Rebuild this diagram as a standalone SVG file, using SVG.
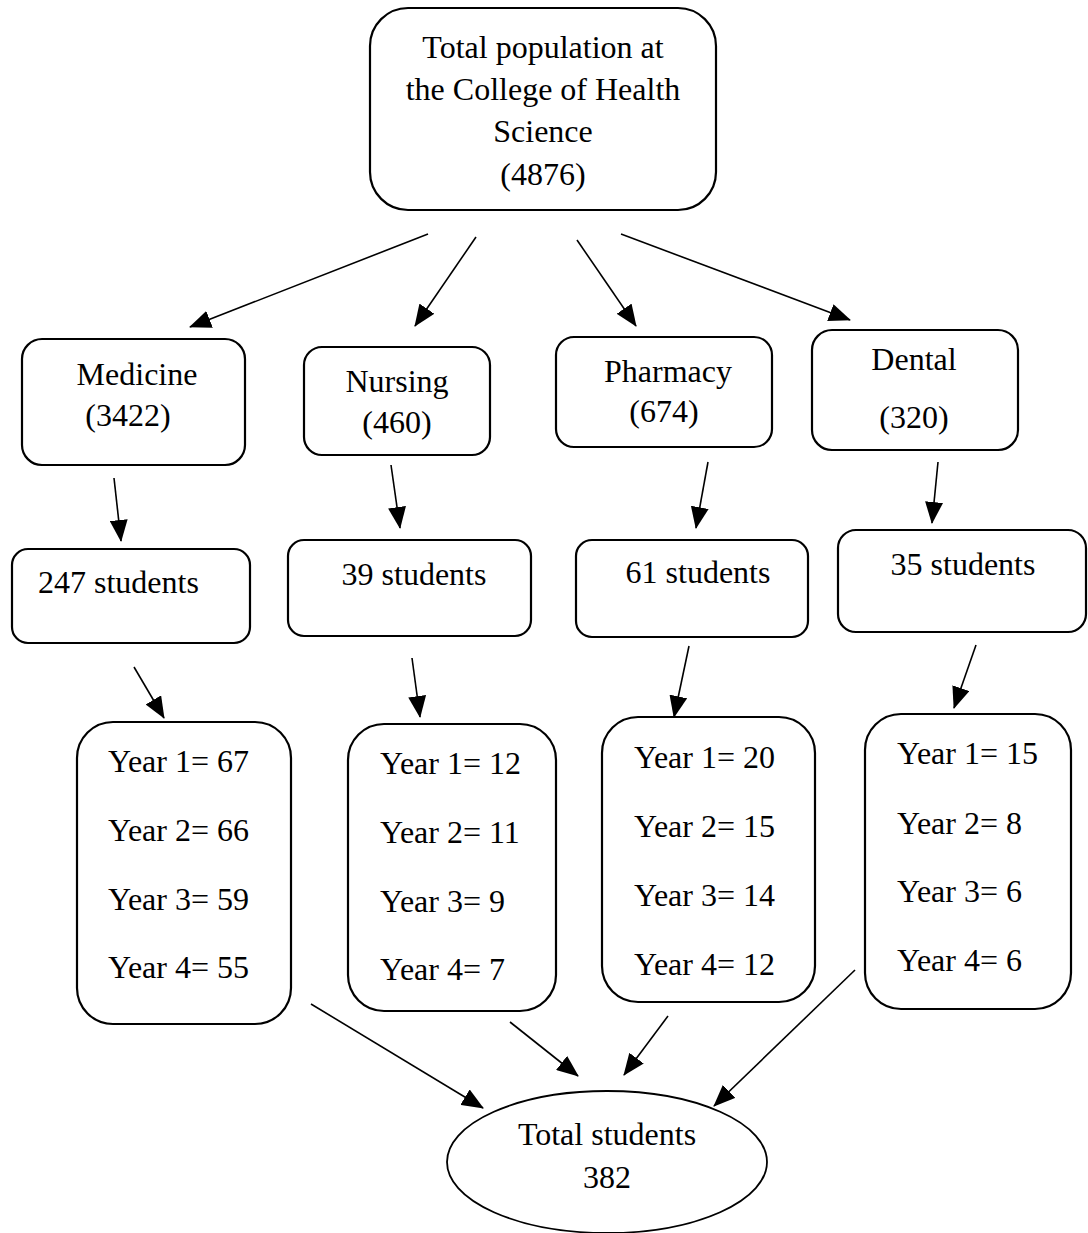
<svg xmlns="http://www.w3.org/2000/svg" width="1088" height="1233" viewBox="0 0 1088 1233">
<style>
.box{fill:#fff;stroke:#000;stroke-width:2.2}
.t{font-family:"Liberation Serif","Times New Roman",serif;font-size:32px;fill:#000}
.c{text-anchor:middle}
.a{stroke:#000;stroke-width:1.6;fill:none;marker-end:url(#ah)}
</style>
<defs>
<marker id="ah" markerUnits="userSpaceOnUse" markerWidth="22" markerHeight="18" refX="21" refY="9" orient="auto" viewBox="0 0 22 18">
<path d="M0,0 L22,9 L0,18 Z" fill="#000"/>
</marker>
</defs>
<rect width="1088" height="1233" fill="#fff"/>
<g id="top">
<rect class="box" x="370" y="8" width="346" height="202" rx="38"/>
<text class="t c" x="543" y="58">Total population at</text>
<text class="t c" x="543" y="100">the College of Health</text>
<text class="t c" x="543" y="142">Science</text>
<text class="t c" x="543" y="185">(4876)</text>
</g>
<g id="medicine">
<rect class="box" x="22" y="339" width="223" height="126" rx="20"/>
<text class="t c" x="137" y="385">Medicine</text>
<text class="t c" x="128" y="426">(3422)</text>
</g>
<g id="nursing">
<rect class="box" x="304" y="347" width="186" height="108" rx="18"/>
<text class="t c" x="397" y="392">Nursing</text>
<text class="t c" x="397" y="433">(460)</text>
</g>
<g id="pharmacy">
<rect class="box" x="556" y="337" width="216" height="110" rx="18"/>
<text class="t c" x="668" y="382">Pharmacy</text>
<text class="t c" x="664" y="422">(674)</text>
</g>
<g id="dental">
<rect class="box" x="812" y="330" width="206" height="120" rx="20"/>
<text class="t c" x="914" y="370">Dental</text>
<text class="t c" x="914" y="428">(320)</text>
</g>
<g id="s247">
<rect class="box" x="12" y="549" width="238" height="94" rx="16"/>
<text class="t" x="38" y="593">247 students</text>
</g>
<g id="s39">
<rect class="box" x="288" y="540" width="243" height="96" rx="16"/>
<text class="t c" x="414" y="585">39 students</text>
</g>
<g id="s61">
<rect class="box" x="576" y="540" width="232" height="97" rx="16"/>
<text class="t c" x="698" y="583">61 students</text>
</g>
<g id="s35">
<rect class="box" x="838" y="530" width="248" height="102" rx="18"/>
<text class="t c" x="963" y="575">35 students</text>
</g>
<g id="ymed">
<rect class="box" x="77" y="722" width="214" height="302" rx="36"/>
<text class="t" x="108" y="772">Year 1= 67</text>
<text class="t" x="108" y="841">Year 2= 66</text>
<text class="t" x="108" y="910">Year 3= 59</text>
<text class="t" x="108" y="978">Year 4= 55</text>
</g>
<g id="ynur">
<rect class="box" x="348" y="724" width="208" height="287" rx="36"/>
<text class="t" x="380" y="774">Year 1= 12</text>
<text class="t" x="380" y="843">Year 2= 11</text>
<text class="t" x="380" y="912">Year 3= 9</text>
<text class="t" x="380" y="980">Year 4= 7</text>
</g>
<g id="ypha">
<rect class="box" x="602" y="717" width="213" height="285" rx="36"/>
<text class="t" x="634" y="768">Year 1= 20</text>
<text class="t" x="634" y="837">Year 2= 15</text>
<text class="t" x="634" y="906">Year 3= 14</text>
<text class="t" x="634" y="975">Year 4= 12</text>
</g>
<g id="yden">
<rect class="box" x="865" y="714" width="206" height="295" rx="36"/>
<text class="t" x="897" y="764">Year 1= 15</text>
<text class="t" x="897" y="834">Year 2= 8</text>
<text class="t" x="897" y="902">Year 3= 6</text>
<text class="t" x="897" y="971">Year 4= 6</text>
</g>
<g id="total">
<ellipse class="box" cx="607" cy="1162" rx="160" ry="71" style="stroke-width:1.8"/>
<text class="t c" x="607" y="1145">Total students</text>
<text class="t c" x="607" y="1188">382</text>
</g>
<g id="connectors">
<line class="a" x1="428" y1="234" x2="190" y2="327"/>
<line class="a" x1="476" y1="237" x2="415" y2="326"/>
<line class="a" x1="577" y1="240" x2="636" y2="326"/>
<line class="a" x1="621" y1="234" x2="850" y2="320"/>
<line class="a" x1="114" y1="478" x2="121" y2="541"/>
<line class="a" x1="391" y1="465" x2="400" y2="528"/>
<line class="a" x1="708" y1="462" x2="696" y2="528"/>
<line class="a" x1="938" y1="462" x2="932" y2="523"/>
<line class="a" x1="134" y1="667" x2="164" y2="718"/>
<line class="a" x1="412" y1="658" x2="420" y2="717"/>
<line class="a" x1="689" y1="646" x2="674" y2="717"/>
<line class="a" x1="976" y1="645" x2="954" y2="708"/>
<line class="a" x1="311" y1="1004" x2="483" y2="1108"/>
<line class="a" x1="510" y1="1022" x2="578" y2="1076"/>
<line class="a" x1="668" y1="1016" x2="624" y2="1075"/>
<line class="a" x1="855" y1="970" x2="714" y2="1106"/>
</g>
</svg>
